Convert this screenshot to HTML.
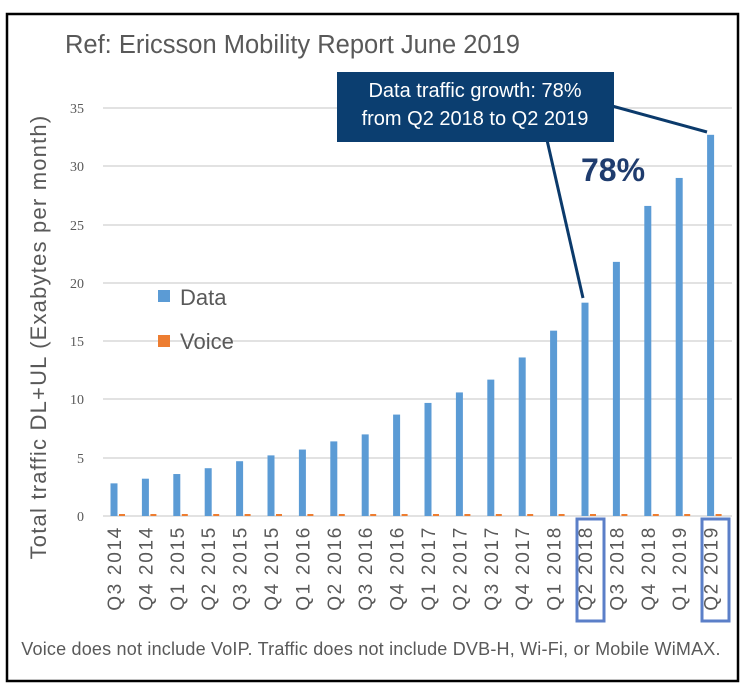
<!DOCTYPE html>
<html><head><meta charset="utf-8"><style>
body{margin:0;background:#fff;}
svg{display:block;font-family:"Liberation Sans",sans-serif;}
</style></head><body>
<svg width="742" height="688" viewBox="0 0 742 688" xmlns="http://www.w3.org/2000/svg">
<rect x="0" y="0" width="742" height="688" fill="#fff"/>
<rect x="7" y="14" width="731" height="667" fill="none" stroke="#000" stroke-width="2.5"/>
<text x="65" y="53" font-size="25.5" fill="#595959">Ref: Ericsson Mobility Report June 2019</text>
<g stroke="#d9d9d9" stroke-width="1.5">
<line x1="103" y1="108" x2="732" y2="108"/><line x1="103" y1="166" x2="732" y2="166"/>
<line x1="103" y1="225" x2="732" y2="225"/><line x1="103" y1="283" x2="732" y2="283"/>
<line x1="103" y1="341" x2="732" y2="341"/><line x1="103" y1="399" x2="732" y2="399"/>
<line x1="103" y1="458" x2="732" y2="458"/><line x1="103" y1="516" x2="732" y2="516"/>
</g>
<g font-size="14" fill="#595959" text-anchor="end" font-family="Liberation Serif,serif">
<text x="84" y="113">35</text><text x="84" y="171">30</text><text x="84" y="230">25</text>
<text x="84" y="288">20</text><text x="84" y="346">15</text><text x="84" y="404">10</text>
<text x="84" y="463">5</text><text x="84" y="521">0</text>
</g>
<text transform="translate(46,337) rotate(-90)" font-size="22" letter-spacing="1.2" fill="#595959" text-anchor="middle">Total traffic DL+UL (Exabytes per month)</text>
<g id="bars"></g>
<rect x="158" y="290" width="12" height="12" fill="#5b9bd5"/>
<text x="180" y="305" font-size="22" fill="#595959">Data</text>
<rect x="158" y="335" width="12" height="12" fill="#ed7d31"/>
<text x="180" y="349" font-size="22" fill="#595959">Voice</text>
<line x1="547" y1="140" x2="583" y2="298" stroke="#0b3a6b" stroke-width="3"/>
<line x1="612" y1="106" x2="707" y2="132" stroke="#0b3a6b" stroke-width="3"/>
<rect x="337" y="72" width="277" height="70" fill="#0b3e70"/>
<text x="475" y="97" font-size="20" fill="#fff" text-anchor="middle">Data traffic growth: 78%</text>
<text x="475" y="125" font-size="20" fill="#fff" text-anchor="middle">from Q2 2018 to Q2 2019</text>
<text x="613" y="181" font-size="32" font-weight="bold" fill="#1f3c6e" text-anchor="middle">78%</text>
<rect x="577" y="519" width="27" height="102" fill="none" stroke="#5b7fc8" stroke-width="3"/>
<rect x="702" y="519" width="27" height="102" fill="none" stroke="#5b7fc8" stroke-width="3"/>
<text x="371" y="655" font-size="18" letter-spacing="0.2" fill="#595959" text-anchor="middle">Voice does not include VoIP. Traffic does not include DVB-H, Wi-Fi, or Mobile WiMAX.</text>
<g id="labels" font-size="19" letter-spacing="1.7" fill="#595959"></g>
</svg>
<script>
var v=[2.8,3.2,3.6,4.1,4.7,5.2,5.7,6.4,7.0,8.7,9.7,10.6,11.7,13.6,15.9,18.3,21.8,26.6,29.0,32.7];
var l=["Q3 2014","Q4 2014","Q1 2015","Q2 2015","Q3 2015","Q4 2015","Q1 2016","Q2 2016","Q3 2016","Q4 2016","Q1 2017","Q2 2017","Q3 2017","Q4 2017","Q1 2018","Q2 2018","Q3 2018","Q4 2018","Q1 2019","Q2 2019"];
var ns="http://www.w3.org/2000/svg",b=document.getElementById("bars"),t=document.getElementById("labels");
for(var i=0;i<20;i++){var cx=114+i*31.4,h=v[i]*408/35;
var r=document.createElementNS(ns,"rect");r.setAttribute("x",cx-3.5);r.setAttribute("y",516-h);r.setAttribute("width",7);r.setAttribute("height",h);r.setAttribute("fill","#5b9bd5");b.appendChild(r);
var o=document.createElementNS(ns,"rect");o.setAttribute("x",cx+5);o.setAttribute("y",514);o.setAttribute("width",6);o.setAttribute("height",2);o.setAttribute("fill","#ed7d31");b.appendChild(o);
var x=document.createElementNS(ns,"text");x.setAttribute("transform","translate("+(cx+7)+",526) rotate(-90)");x.setAttribute("text-anchor","end");x.textContent=l[i];t.appendChild(x);}
</script>
</body></html>
